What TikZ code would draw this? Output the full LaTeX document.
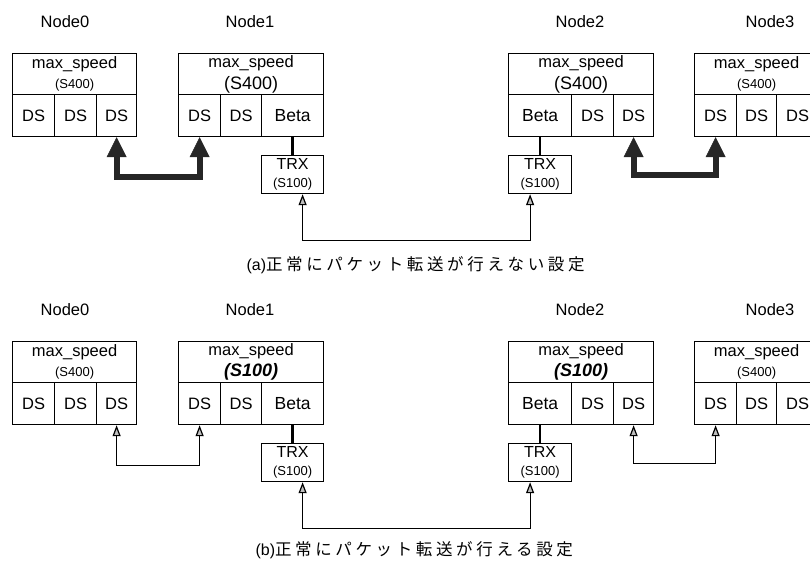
\documentclass[tikz,border=0pt]{standalone}
\usepackage{fontspec}
\setmainfont{Liberation Sans}
\newfontfamily\cjk[LetterSpace=22]{Noto Sans CJK JP}
\usetikzlibrary{arrows.meta}

% speed labels inside the boxes
\newcommand\spsmall[1]{{\fontsize{13}{14}\selectfont #1}}
\newcommand\spbig[1]{{\fontsize{18}{18}\selectfont #1}}
\newcommand\spbold[1]{{\fontsize{18}{18}\selectfont\bfseries\itshape #1}}

\tikzset{
  lbl/.style={font=\fontsize{16.5}{18}\selectfont},
  hdr/.style={draw, line width=1.2pt, anchor=north west, minimum height=41pt, inner sep=0pt, align=center, font=\fontsize{16.5}{20}\selectfont},
  cell/.style={draw, line width=1.2pt, anchor=north west, minimum height=42pt, inner sep=0pt, font=\fontsize{16.5}{18}\selectfont},
  trx/.style={draw, line width=1.2pt, anchor=north west, minimum height=38pt, inner sep=0pt, align=center, font=\fontsize{16}{18}\selectfont},
  link/.style={line width=2.5pt},
  bigarrow/.style={line width=6pt, black!85, {Triangle[width=20pt,length=20pt,line width=0.5pt]}-{Triangle[width=20pt,length=20pt,line width=0.5pt]}},
  thinarrow/.style={line width=1.2pt, {Triangle[width=8pt,length=11pt,fill=gray!50]}-{Triangle[width=8pt,length=11pt,fill=gray!50]}},
  capline/.style={anchor=west, font=\fontsize{16}{18}\selectfont},
}

\begin{document}
\begin{tikzpicture}[x=1pt,y=-1pt]
\useasboundingbox (0,0) rectangle (810,571);

% (a) settings that fail
\node[lbl] (a0) at (65,22) {Node0};
\node[lbl] (a1) at (250,22) {Node1};
\node[lbl] (a2) at (580,22) {Node2};
\node[lbl] (a3) at (770,22) {Node3};

\node[hdr, minimum width=124pt] (a0h) at (12,53) {max\_speed\\\spsmall{(S400)}};
\node[cell, minimum width=42pt] (a0a) at (12,94) {DS};
\node[cell, minimum width=42pt] (a0b) at (54,94) {DS};
\node[cell, minimum width=40pt] (a0c) at (96,94) {DS};

\node[hdr, minimum width=145pt] (a1h) at (178,53) {max\_speed\\[2pt]\spbig{(S400)}};
\node[cell, minimum width=42pt] (a1a) at (178,94) {DS};
\node[cell, minimum width=41pt] (a1b) at (220,94) {DS};
\node[cell, minimum width=62pt, font=\fontsize{17.5}{18}\selectfont] (a1c) at (261,94) {Beta};
\node[trx, minimum width=62pt] (a1t) at (261,155) {TRX\\\spsmall{(S100)}};

\node[hdr, minimum width=145pt] (a2h) at (508,53) {max\_speed\\[2pt]\spbig{(S400)}};
\node[cell, minimum width=63pt, font=\fontsize{17.5}{18}\selectfont] (a2a) at (508,94) {Beta};
\node[cell, minimum width=42pt] (a2b) at (571,94) {DS};
\node[cell, minimum width=40pt] (a2c) at (613,94) {DS};
\node[trx, minimum width=63pt] (a2t) at (508,155) {TRX\\\spsmall{(S100)}};

\node[hdr, minimum width=124pt] (a3h) at (694,53) {max\_speed\\\spsmall{(S400)}};
\node[cell, minimum width=42pt] (a3a) at (694,94) {DS};
\node[cell, minimum width=40pt] (a3b) at (736,94) {DS};
\node[cell, minimum width=42pt] (a3c) at (776,94) {DS};

\draw[link] (a1c.south) -- (a1t.north);
\draw[link] (a2a.south) -- (a2t.north);
\draw[bigarrow] (a0c.south) -- ++(0,40) -| (a1a.south);
\draw[bigarrow] (a2c.south) -- ++(0,38) -| (a3a.south);
\draw[thinarrow] ([xshift=10pt]a1t.south) -- ++(0,46) -| ([xshift=-10pt]a2t.south);

\node[capline] (capa) at (243,265) {(a){\cjk\fontsize{16.5}{18}\selectfont 正常にパケット転送が行えない設定}};

% (b) settings that work
\begin{scope}[yshift=-288pt]
\node[lbl] (b0) at (65,22) {Node0};
\node[lbl] (b1) at (250,22) {Node1};
\node[lbl] (b2) at (580,22) {Node2};
\node[lbl] (b3) at (770,22) {Node3};

\node[hdr, minimum width=124pt] (b0h) at (12,53) {max\_speed\\\spsmall{(S400)}};
\node[cell, minimum width=42pt] (b0a) at (12,94) {DS};
\node[cell, minimum width=42pt] (b0b) at (54,94) {DS};
\node[cell, minimum width=40pt] (b0c) at (96,94) {DS};

\node[hdr, minimum width=145pt] (b1h) at (178,53) {max\_speed\\[1pt]\spbold{(S100)}};
\node[cell, minimum width=42pt] (b1a) at (178,94) {DS};
\node[cell, minimum width=41pt] (b1b) at (220,94) {DS};
\node[cell, minimum width=62pt, font=\fontsize{17.5}{18}\selectfont] (b1c) at (261,94) {Beta};
\node[trx, minimum width=62pt] (b1t) at (261,155) {TRX\\\spsmall{(S100)}};

\node[hdr, minimum width=145pt] (b2h) at (508,53) {max\_speed\\[1pt]\spbold{(S100)}};
\node[cell, minimum width=63pt, font=\fontsize{17.5}{18}\selectfont] (b2a) at (508,94) {Beta};
\node[cell, minimum width=42pt] (b2b) at (571,94) {DS};
\node[cell, minimum width=40pt] (b2c) at (613,94) {DS};
\node[trx, minimum width=63pt] (b2t) at (508,155) {TRX\\\spsmall{(S100)}};

\node[hdr, minimum width=124pt] (b3h) at (694,53) {max\_speed\\\spsmall{(S400)}};
\node[cell, minimum width=42pt] (b3a) at (694,94) {DS};
\node[cell, minimum width=40pt] (b3b) at (736,94) {DS};
\node[cell, minimum width=42pt] (b3c) at (776,94) {DS};

\draw[link] (b1c.south) -- (b1t.north);
\draw[link] (b2a.south) -- (b2t.north);
\draw[thinarrow] (b0c.south) -- ++(0,40) -| (b1a.south);
\draw[thinarrow] (b2c.south) -- ++(0,38) -| (b3a.south);
\draw[thinarrow] ([xshift=10pt]b1t.south) -- ++(0,46) -| ([xshift=-10pt]b2t.south);

\node[capline] (capb) at (252,262) {(b){\cjk\fontsize{16.5}{18}\selectfont 正常にパケット転送が行える設定}};
\end{scope}
\end{tikzpicture}
\end{document}
